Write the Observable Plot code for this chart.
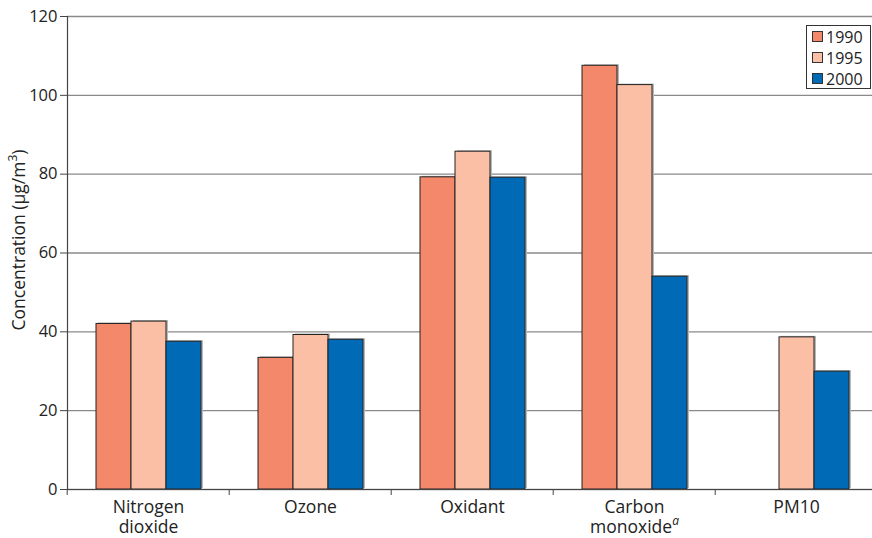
<!DOCTYPE html>
<html>
<head>
<meta charset="utf-8">
<script src="https://cdn.jsdelivr.net/npm/d3@7"></script>
<script src="https://cdn.jsdelivr.net/npm/@observablehq/plot@0.6"></script>
<style>
  html, body { margin: 0; padding: 0; background: #fff; }
  #wrap { position: relative; width: 872px; height: 538px; font-family: "Open Sans", sans-serif; }
  #legend { position: absolute; left: 806px; top: 25px; width: 63px; height: 62px; border: 1px solid #333; background: #fff; font-size: 16px; color: #222; }
  #legend .row { display: flex; align-items: center; height: 21px; margin-left: 5px; }
  #legend .sw { width: 9px; height: 9px; border: 1px solid #333; margin-right: 3px; }
</style>
</head>
<body>
<div id="wrap"><div id="legend"></div></div>
<script>
const categories = ["Nitrogen\ndioxide", "Ozone", "Oxidant", "Carbon\nmonoxide", "PM10"];
const years = [1990, 1995, 2000];
const values1990 = [42.0, 33.4, 79.2, 107.5, null];
const values1995 = [42.6, 39.2, 85.7, 102.6, 38.6];
const values2000 = [37.5, 38.0, 79.1, 54.0, 29.9];
const yTicks = [0, 20, 40, 60, 80, 100, 120];
const colors = ["#f4886a", "#fbbfa6", "#006ab7"];
const yLabel = "Concentration (\u00b5g/m";

const series = [values1990, values1995, values2000];
const data = [];
categories.forEach((c, i) => {
  years.forEach((yr, j) => {
    const v = series[j][i];
    if (v != null) data.push({cat: c, year: yr, value: v});
  });
});

const bandHalf = (872 - 65 + 6) / categories.length / 2;

const chart = Plot.plot({
  width: 872,
  height: 538,
  marginLeft: 65,
  marginRight: -6,
  marginTop: 16,
  marginBottom: 49,
  style: {fontFamily: "Open Sans", fontSize: "16px", color: "#222", background: "white", overflow: "visible"},
  fx: {domain: categories, padding: 0, label: null},
  x: {domain: years, paddingInner: 0, paddingOuter: 0.76, axis: null},
  y: {domain: [0, 120]},
  color: {domain: years, range: colors},
  marks: [
    Plot.gridY(yTicks, {stroke: "#8a8a8a", strokeOpacity: 1, strokeWidth: 1.3}),
    Plot.barY(data, {fx: "cat", x: "year", y: "value", fill: "#b8b8b8", dx: 2, dy: -1}),
    Plot.barY(data, {fx: "cat", x: "year", y: "value", fill: "year", stroke: "#222", strokeWidth: 1}),
    Plot.ruleY([0], {stroke: "#444", strokeWidth: 1.2}),
    Plot.frame({anchor: "left", facetAnchor: "left", stroke: "#444", strokeWidth: 1.2}),
    Plot.axisY(yTicks, {tickSize: 7, tickPadding: 3, label: null, fontSize: 16.5, stroke: "#444"}),
    Plot.axisFx({anchor: "bottom", tickSize: 6, tickFormat: () => "", dx: -bandHalf, label: null, stroke: "#444"}),
    Plot.axisFx({anchor: "bottom", tickSize: 0, tickPadding: 10, label: null, fontSize: 17.5, lineHeight: 1.12})
  ]
});

document.getElementById("wrap").prepend(chart);

// superscript on "monoxide"
d3.select(chart).selectAll("tspan").filter(function() { return this.textContent === "monoxide"; })
  .append("tspan").attr("font-style", "italic").attr("font-size", "12px").attr("baseline-shift", "super").text("a");

// y-axis title
const t = d3.select(chart).append("text")
  .attr("transform", "translate(25,240) rotate(-90)")
  .attr("text-anchor", "middle")
  .attr("font-size", "17.5px")
  .attr("fill", "#222");
t.append("tspan").text(yLabel);
t.append("tspan").attr("font-size", "12px").attr("baseline-shift", "super").text("3");
t.append("tspan").text(")");

// legend
const legend = d3.select("#legend");
years.forEach((yr, j) => {
  const row = legend.append("div").attr("class", "row");
  row.append("div").attr("class", "sw").style("background", colors[j]);
  row.append("span").text(yr);
});
</script>
</body>
</html>
